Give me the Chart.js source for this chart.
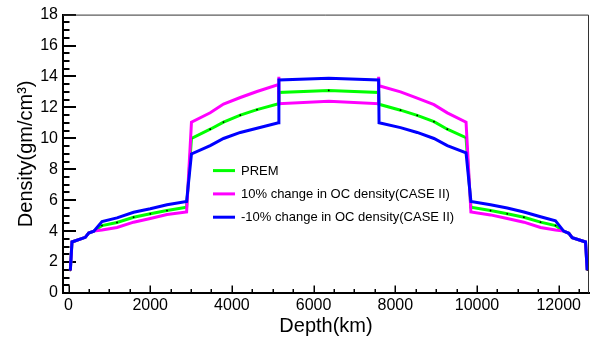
<!DOCTYPE html>
<html><head><meta charset="utf-8">
<script src="https://cdn.jsdelivr.net/npm/chart.js@4/dist/chart.umd.min.js"></script>
<style>html,body{margin:0;padding:0;background:#fff;} #wrap{width:600px;height:345px;position:relative;}</style>
</head><body><div id="wrap"><canvas id="c" width="600" height="345"></canvas></div>
<script>
// ---- data (depth in km, density in gm/cm^3) ----
const depthKm = [44, 85, 411, 493, 620, 820, 1187, 1594, 2002, 2411, 2891, 3010, 3469, 3795, 4206, 4614, 5140, 5150, 5150, 6371, 7592, 7592, 7602, 8128, 8536, 8947, 9273, 9732, 9851, 10331, 10740, 11148, 11555, 11922, 12122, 12249, 12331, 12657, 12698];
const premDensity = [1.46, 3.30, 3.60, 3.88, 4.00, 4.36, 4.56, 4.90, 5.12, 5.33, 5.55, 9.99, 10.59, 11.05, 11.50, 11.86, 12.24, 12.97, 12.97, 13.10, 12.97, 12.97, 12.20, 11.82, 11.48, 11.08, 10.59, 10.04, 5.55, 5.33, 5.12, 4.90, 4.58, 4.36, 4.00, 3.86, 3.58, 3.30, 1.48];
const plus10Density = [1.46, 3.30, 3.60, 3.88, 4.00, 4.07, 4.24, 4.58, 4.82, 5.07, 5.24, 11.05, 11.65, 12.22, 12.64, 13.03, 13.48, 13.98, 12.24, 12.39, 12.24, 13.98, 13.40, 13.00, 12.60, 12.18, 11.65, 11.05, 5.24, 5.05, 4.82, 4.58, 4.24, 4.07, 4.00, 3.86, 3.58, 3.30, 1.48];
const minus10Density = [1.46, 3.30, 3.60, 3.88, 4.00, 4.62, 4.86, 5.22, 5.45, 5.71, 5.92, 8.99, 9.53, 9.99, 10.38, 10.65, 11.01, 13.77, 13.77, 13.88, 13.77, 13.77, 11.01, 10.69, 10.38, 9.99, 9.53, 9.06, 5.92, 5.71, 5.50, 5.24, 4.93, 4.66, 4.00, 3.86, 3.58, 3.30, 1.48];
const seriesLabels = ['PREM', '10% change in OC density(CASE II)', '-10% change in OC density(CASE II)'];
const seriesColors = ['#00ff00', '#ff00ff', '#0000ff'];
const xTickValues = [0, 2000, 4000, 6000, 8000, 10000, 12000];
const yTickValues = [0, 2, 4, 6, 8, 10, 12, 14, 16, 18];
const xTitle = 'Depth(km)';
const yTitle = 'Density(gm/cm\u00B3)';

const FONT = '"Liberation Sans", Arial, Helvetica, sans-serif';
function pts(ys){ return depthKm.map((x,i)=>({x:x, y:ys[i]})); }

const ticksPlugin = {
  id: 'rootTicks',
  beforeDatasetsDraw(chart) {
    const {ctx, chartArea: a, scales: {x, y}} = chart;
    ctx.save();
    ctx.strokeStyle = '#000';
    // y ticks (inside, to the right of the axis)
    ctx.lineWidth = 2;
    for (let v = 0; v <= 18.0001; v += 0.5) {
      const py = Math.round(y.getPixelForValue(v));
      const major = Math.abs(v / 2 - Math.round(v / 2)) < 1e-6;
      ctx.beginPath(); ctx.moveTo(a.left, py); ctx.lineTo(a.left + (major ? 13 : 6.5), py); ctx.stroke();
    }
    // x ticks (inside, upward)
    ctx.lineWidth = 1.5;
    for (let v = 0; v <= x.max; v += 500) {
      const px = Math.round(x.getPixelForValue(v)) + 0.25;
      const major = v % 2000 === 0;
      ctx.beginPath(); ctx.moveTo(px, a.bottom); ctx.lineTo(px, a.bottom - (major ? 7.5 : 4)); ctx.stroke();
    }
    ctx.restore();
  },
  afterDraw(chart) {
    const {ctx, chartArea: a} = chart;
    ctx.save();
    ctx.strokeStyle = '#333';
    ctx.lineWidth = 1;
    ctx.beginPath();
    ctx.moveTo(a.left, a.top + 0.5); ctx.lineTo(a.right - 0.5, a.top + 0.5); ctx.lineTo(a.right - 0.5, a.bottom);
    ctx.stroke();
    // legend
    const lx = a.left + 150, ly0 = a.top + 156, dy = 23.3;
    ctx.font = '13px ' + FONT;
    ctx.textBaseline = 'middle';
    ctx.textAlign = 'left';
    seriesLabels.forEach((lab, i) => {
      const yy = ly0 + i * dy;
      ctx.strokeStyle = seriesColors[i];
      ctx.lineWidth = 3;
      ctx.beginPath(); ctx.moveTo(lx, yy); ctx.lineTo(lx + 22, yy); ctx.stroke();
      ctx.fillStyle = '#000';
      ctx.fillText(lab, lx + 28, yy + 0.5);
    });
    ctx.restore();
  }
};

new Chart(document.getElementById('c'), {
  type: 'scatter',
  data: {
    datasets: [
      { label: seriesLabels[2], data: pts(minus10Density), showLine: true, borderColor: seriesColors[2], borderWidth: 3, pointRadius: 0, order: 0, tension: 0 },
      { label: seriesLabels[1], data: pts(plus10Density), showLine: true, borderColor: seriesColors[1], borderWidth: 3, pointRadius: 0, order: 1, tension: 0 },
      { label: seriesLabels[0], data: pts(premDensity), showLine: true, borderColor: seriesColors[0], borderWidth: 3, pointRadius: 0.9, pointBackgroundColor: '#000', pointBorderWidth: 0, order: 2, tension: 0 }
    ]
  },
  options: {
    responsive: false,
    animation: false,
    devicePixelRatio: 1,
    layout: { padding: { top: 10, right: 11, left: 0, bottom: 0 } },
    plugins: { legend: { display: false }, tooltip: { enabled: false } },
    scales: {
      x: {
        type: 'linear', min: -135, max: 12742,
        afterFit(s) { s.height = 52; },
        afterBuildTicks(s) { s.ticks = xTickValues.map(v => ({value: v})); },
        ticks: { includeBounds: false, autoSkip: false, maxRotation: 0, padding: 3, color: '#000', font: { family: FONT, size: 16 }, callback: v => String(v) },
        grid: { display: true, drawOnChartArea: false, drawTicks: false },
        border: { display: true, width: 2, color: '#000' },
        title: { display: true, text: xTitle, color: '#000', font: { family: FONT, size: 20 }, padding: { top: 0, bottom: 7 } }
      },
      y: {
        type: 'linear', min: 0, max: 18,
        afterFit(s) { s.width = 63; },
        afterBuildTicks(s) { s.ticks = yTickValues.map(v => ({value: v})); },
        ticks: { includeBounds: false, autoSkip: false, padding: 5, color: '#000', font: { family: FONT, size: 16 }, callback: v => String(v) },
        grid: { display: true, drawOnChartArea: false, drawTicks: false },
        border: { display: true, width: 2, color: '#000' },
        title: { display: true, text: yTitle, color: '#000', font: { family: FONT, size: 20 }, padding: { top: 14, bottom: 0 } }
      }
    }
  },
  plugins: [ticksPlugin]
});
</script></body></html>
